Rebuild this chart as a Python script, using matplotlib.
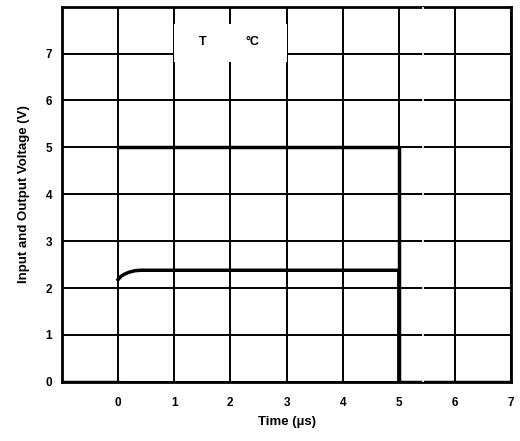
import matplotlib.pyplot as plt
from matplotlib.patches import Rectangle

nan = float('nan')

# Input pulse (V) vs time (us); the rising edge sits on the t=0 grid line
t_in = [-1, 0, nan, 0, 5, 5, 7]
v_in = [0, 0, nan, 5, 5, 0, 0]

# Output voltage (V) vs time (us)
t_out = [0, 0.05, 0.12, 0.2, 0.3, 0.4, 5, 5]
v_out = [2.18, 2.25, 2.3, 2.34, 2.37, 2.38, 2.38, 0]

x_ticks = [0, 1, 2, 3, 4, 5, 6, 7]
y_ticks = [0, 1, 2, 3, 4, 5, 6, 7]

plt.rcParams['font.family'] = ['Liberation Sans', 'DejaVu Sans']
plt.rcParams['font.weight'] = 'bold'

fig = plt.figure(figsize=(5.2, 4.41), dpi=100)
ax = fig.add_axes([0.119, 0.134, 0.864, 0.851])

ax.set_xlim(-1, 7)
ax.set_ylim(0, 8)
ax.set_xticks(x_ticks)
ax.set_yticks(y_ticks)
ax.tick_params(length=0, labelsize=8.5)
ax.tick_params(axis='x', pad=11)
ax.tick_params(axis='y', pad=7)
for lbl in ax.get_xticklabels() + ax.get_yticklabels():
    lbl.set_fontweight('bold')

ax.grid(True, color='black', linewidth=1.4)
ax.set_axisbelow(True)
for s in ax.spines.values():
    s.set_linewidth(2)

ax.plot(t_in, v_in, color='black', linewidth=2.5, zorder=3)
ax.plot(t_out, v_out, color='black', linewidth=2.5, zorder=3)

# break mark in the grid
ax.axvline(5.43, color='white', linewidth=1.2, zorder=4)

# label box (white background over grid)
ax.add_patch(Rectangle((1.0, 6.83), 2.0, 0.79, facecolor='white',
                       edgecolor='none', zorder=2))
ax.text(1.5, 7.24, 'T', ha='center', va='center', fontsize=9,
        fontweight='bold', zorder=5)
ax.text(2.39, 7.24, '°C', ha='center', va='center', fontsize=9,
        fontweight='bold', zorder=5)

ax.set_xlabel('Time (µs)', fontsize=9.5, fontweight='bold', labelpad=5)
ax.set_ylabel('Input and Output Voltage (V)', fontsize=9.5, fontweight='bold',
              labelpad=11)

fig.savefig('out.png', dpi=100)
